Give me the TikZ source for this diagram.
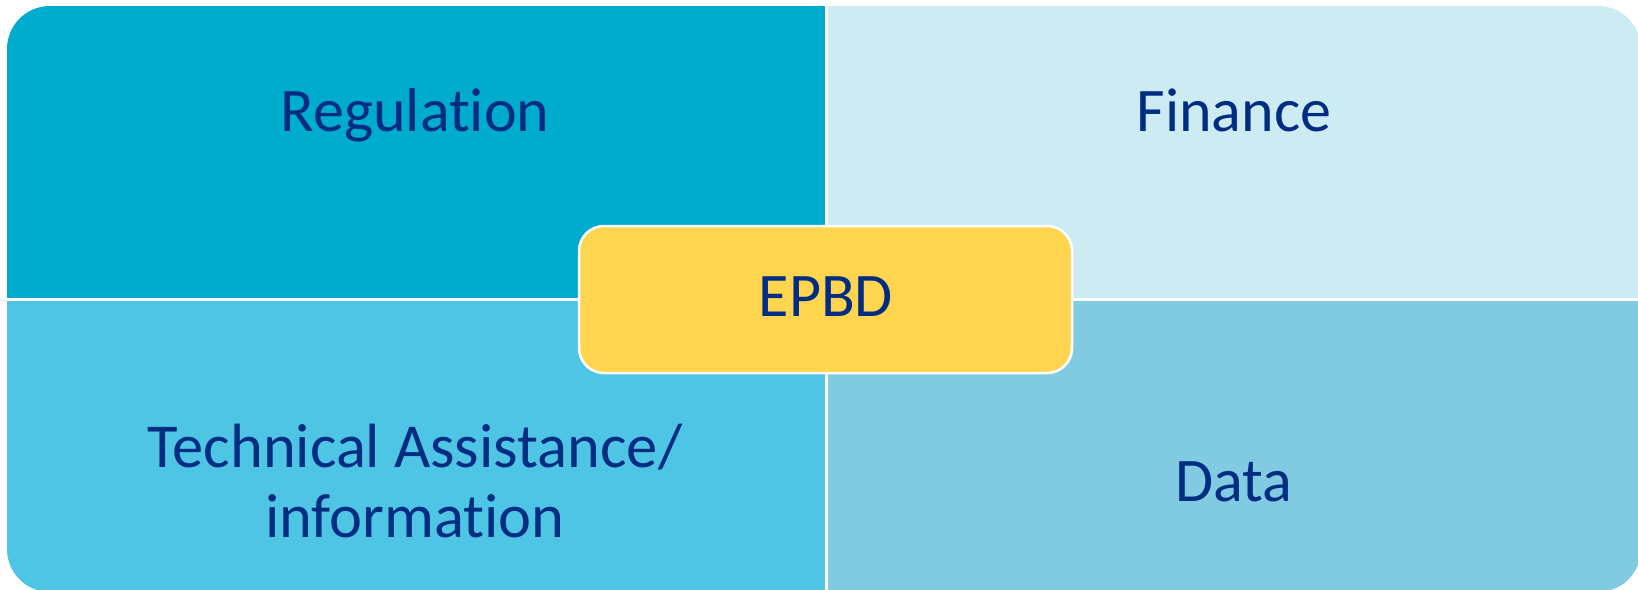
\documentclass[tikz,border=0pt]{standalone}
\usepackage{fontspec}
\setmainfont{Carlito}[Ligatures=NoCommon]
\definecolor{qone}{RGB}{0,172,206}
\definecolor{qtwo}{RGB}{205,235,243}
\definecolor{qthree}{RGB}{79,197,229}
\definecolor{qfour}{RGB}{128,203,225}
\definecolor{hub}{RGB}{255,213,80}
\definecolor{ink}{RGB}{0,45,130}
\tikzset{
  lbl/.style={text=ink, font=\fontsize{62}{70}\selectfont, align=center, inner sep=0pt, anchor=base},
  sep/.style={draw=white, line width=3pt},
}
\begin{document}
\begin{tikzpicture}[x=1pt,y=-1pt]
\useasboundingbox (0,0) rectangle (1638,589);
\begin{scope}
  \clip[rounded corners=43pt] (7,6) rectangle (1641,592);
  \fill[qone] (0,0) rectangle (826,299);
  \fill[qtwo] (826,0) rectangle (1650,299);
  \fill[qthree] (0,299) rectangle (826,600);
  \fill[qfour] (826,299) rectangle (1650,600);
  \draw[sep] (826,0) -- (826,600);
  \draw[sep] (0,299) -- (1650,299);
\end{scope}
\node[lbl] (reg) at (415,131) {Regulation};
\node[lbl] (fin) at (1234,131) {Finance};
\node[lbl, font=\fontsize{62.5}{70}\selectfont] (tech) at (415,537) {Technical Assistance/\\information};
\node[lbl] (data) at (1234,501) {Data};
\node[fill=hub, draw=white, line width=2.5pt, rounded corners=25pt,
      minimum width=493pt, minimum height=147pt, inner sep=0pt] (hubbox) at (825.5,299.5) {};
\node[lbl] (epbd) at (826,316) {EPBD};
\end{tikzpicture}
\end{document}
